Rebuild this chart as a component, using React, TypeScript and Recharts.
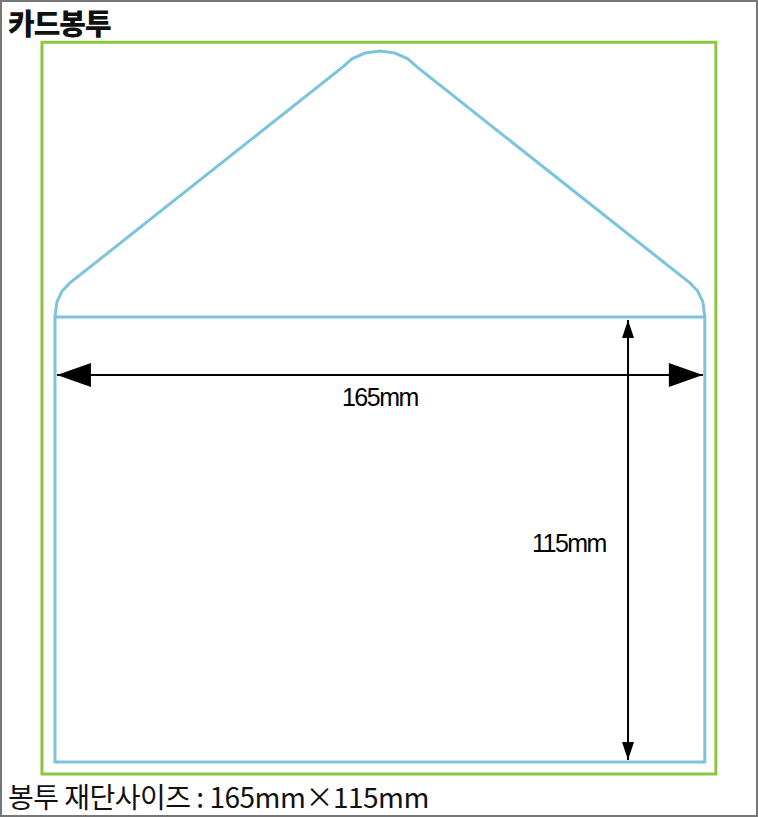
import React from 'react';
import { ComposedChart, XAxis, YAxis, Scatter, ReferenceArea } from 'recharts';

// envelope size in mm
const envelopeWidth = 165;
const envelopeHeight = 115;

// flap outline (mm, origin at bottom-left of envelope)
const flapPoints = [
  { x: 0, y: 115 }, { x: 0.5, y: 118.9 }, { x: 1.8, y: 121.7 }, { x: 3.8, y: 123.8 },
  { x: 73.1, y: 179.6 }, { x: 75.4, y: 181.7 }, { x: 78.7, y: 183.2 }, { x: 82.5, y: 183.7 },
  { x: 86.3, y: 183.2 }, { x: 89.6, y: 181.7 }, { x: 91.9, y: 179.6 },
  { x: 161.2, y: 123.8 }, { x: 163.2, y: 121.7 }, { x: 164.5, y: 118.9 }, { x: 165, y: 115 },
];

const widthArrow = [{ x: 0.5, y: 100 }, { x: 164.5, y: 100 }];
const heightArrow = [{ x: 145.5, y: 114.2 }, { x: 145.5, y: 0.5 }];
const arrowHeads = [
  { x: 0.5, y: 100, dir: 'left', size: 'big' },
  { x: 164.5, y: 100, dir: 'right', size: 'big' },
  { x: 145.5, y: 114.2, dir: 'up', size: 'small' },
  { x: 145.5, y: 0.5, dir: 'down', size: 'small' },
];
const labels = [
  { x: 82.5, y: 94.3, text: '165mm' },
  { x: 130.5, y: 56.5, text: '115mm' },
];

const W = 758;
const H = 817;

const ArrowHead = (p: any) => {
  const { cx, cy, payload } = p;
  const L = payload.size === 'big' ? 34 : 18;
  const h = payload.size === 'big' ? 12 : 6;
  let pts = '';
  if (payload.dir === 'left') pts = `${cx},${cy} ${cx + L},${cy - h} ${cx + L},${cy + h}`;
  if (payload.dir === 'right') pts = `${cx},${cy} ${cx - L},${cy - h} ${cx - L},${cy + h}`;
  if (payload.dir === 'up') pts = `${cx},${cy} ${cx - h},${cy + L} ${cx + h},${cy + L}`;
  if (payload.dir === 'down') pts = `${cx},${cy} ${cx - h},${cy - L} ${cx + h},${cy - L}`;
  return <polygon points={pts} fill="#000" />;
};

const LabelText = (p: any) => (
  <text x={p.cx} y={p.cy} textAnchor="middle" dominantBaseline="central"
    fontFamily="Liberation Sans, Arial, sans-serif" fontSize={25} letterSpacing={-1.5} fill="#000">
    {p.payload.text}
  </text>
);

const NoDot = () => null;

export default function App() {
  if (typeof document !== 'undefined') document.body.style.margin = '0';
  return (
    <div style={{ position: 'relative', width: W, height: H, background: '#fff', fontFamily: '"Noto Sans CJK KR", sans-serif' }}>
      <ComposedChart width={W} height={H} margin={{ top: 0, right: 0, bottom: 0, left: 0 }}>
        <XAxis type="number" dataKey="x" domain={[-13.96, 178.5]} hide allowDataOverflow />
        <YAxis type="number" dataKey="y" domain={[-14.2, 196.9]} hide allowDataOverflow />
        <ReferenceArea x1={-3.3} x2={167.8} y1={-3.1} y2={186} fill="none" stroke="#8cc63e" strokeWidth={3} />
        <ReferenceArea x1={0} x2={envelopeWidth} y1={0} y2={envelopeHeight} fill="none" stroke="#7cc4dc" strokeWidth={3} />
        <Scatter data={flapPoints} dataKey="y" line={{ stroke: '#7cc4dc', strokeWidth: 3 }} shape={NoDot} isAnimationActive={false} />
        <Scatter data={widthArrow} dataKey="y" line={{ stroke: '#000', strokeWidth: 2 }} shape={NoDot} isAnimationActive={false} />
        <Scatter data={heightArrow} dataKey="y" line={{ stroke: '#000', strokeWidth: 2 }} shape={NoDot} isAnimationActive={false} />
        <Scatter data={arrowHeads} dataKey="y" shape={ArrowHead} isAnimationActive={false} />
        <Scatter data={labels} dataKey="y" shape={LabelText} isAnimationActive={false} />
      </ComposedChart>
      <div style={{ position: 'absolute', inset: 0, border: '2px solid #777', boxSizing: 'border-box', pointerEvents: 'none' }} />
      <div style={{ position: 'absolute', left: 8, top: 1, fontSize: 29, fontWeight: 900, color: '#111', letterSpacing: -1 }}>카드봉투</div>
      <div style={{ position: 'absolute', left: 8, top: 776, fontSize: 28, color: '#111', letterSpacing: -0.5 }}>봉투 재단사이즈 : 165mm×115mm</div>
    </div>
  );
}
